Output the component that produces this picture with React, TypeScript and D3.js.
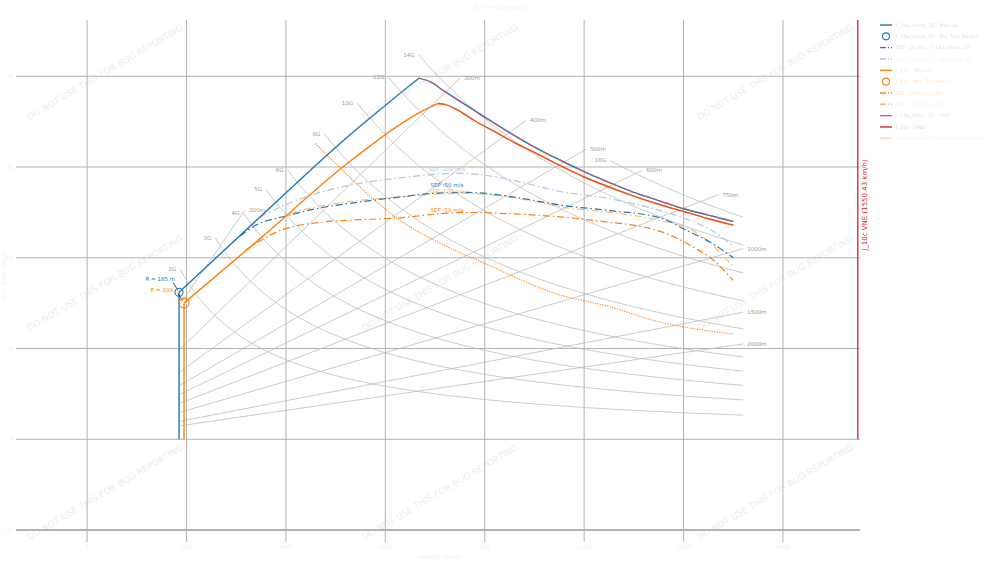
import React from 'react';
import * as d3 from 'd3';

type Pt = [number, number];

const FONT = '"DejaVu Sans", sans-serif';
const G = 9.81;

// every curve is [speed km/h, turn rate deg/s]
const f16Stall: Pt[] = [[185, 0], [185, 16.2]];
const f16Climb: Pt[] = [[185, 16.2], [348, 24.5], [509, 32.6], [668, 39.8]];
const f16Descent: Pt[] = [
  [668, 39.8], [690, 39.4], [720, 38.3], [760, 36.9], [800, 35.5], [850, 33.8], [900, 32.2],
  [950, 30.8], [1000, 29.5], [1050, 28.3], [1100, 27.2], [1150, 26.3], [1200, 25.4], [1250, 24.7], [1300, 24.0],
];
const j10Stall: Pt[] = [[195, 0], [195, 15.0]];
const j10Climb: Pt[] = [[195, 15.0], [352, 22.3], [533, 30.8], [690, 36.6], [706, 37.0]];
const j10Descent: Pt[] = [
  [706, 37.0], [720, 36.9], [745, 36.3], [780, 35.1], [820, 33.9], [860, 32.7], [900, 31.6],
  [950, 30.2], [1000, 28.9], [1050, 27.8], [1100, 26.8], [1150, 25.9], [1200, 25.1], [1250, 24.3], [1300, 23.6],
];

const f16Sep50: Pt[] = [
  [308, 22.4], [340, 23.6], [400, 24.6], [460, 25.4], [529, 26.0], [630, 26.7], [696, 27.1], [765, 27.2],
  [831, 26.9], [890, 26.4], [952, 25.8], [1052, 25.2], [1153, 24.4], [1207, 23.0], [1254, 21.7], [1300, 20.0],
];
const f16Sep100: Pt[] = [
  [348, 24.5], [420, 26.3], [489, 27.5], [560, 28.3], [630, 28.8], [700, 29.2], [750, 29.3], [800, 29.1],
  [860, 28.5], [952, 27.3], [1052, 26.5], [1153, 25.2], [1219, 24.0], [1260, 22.9], [1300, 21.3],
];
const j10Sep50: Pt[] = [
  [318, 20.8], [388, 23.0], [469, 23.9], [550, 24.2], [630, 24.4], [700, 24.8], [765, 25.0], [831, 24.9],
  [952, 24.5], [1052, 23.9], [1119, 23.4], [1173, 22.5], [1219, 21.2], [1254, 20.0], [1300, 17.5],
];
const j10Sep100: Pt[] = [
  [408, 24.9], [470, 25.7], [529, 26.2], [630, 26.7], [700, 27.0], [765, 27.1], [831, 26.8], [900, 26.2],
  [966, 25.5], [1052, 25.0], [1153, 24.1], [1219, 23.0], [1254, 21.6], [1300, 19.0],
];
const j10Sustained: Pt[] = [
  [459, 32.6], [509, 29.9], [569, 26.8], [630, 24.1], [710, 21.6], [791, 19.6], [952, 15.9],
  [1052, 14.6], [1153, 12.9], [1219, 12.2], [1300, 11.6],
];

const f16MinRadius: Pt = [185, 16.2];
const j10MinRadius: Pt = [195, 15.0];
const minRadiusLabels = ['R = 185 m', 'R = 209 m'];

// constant load factor and constant radius guides
const gLoads = [2, 3, 4, 5, 6, 8, 10, 12, 14, 16];
const gStartSpeeds = [187, 258, 314, 360, 403, 477, 543, 606, 667, 1052];
const radii = [200, 300, 400, 500, 600, 750, 1000, 1500, 2000];
const radiusEndSpeeds = [318, 750, 883, 1004, 1117, 1270, 1320, 1320, 1320];
const guideStartSpeed = 185;
const guideEndSpeed = 1320;

const vneSpeed = 1550.43;
const xTicks = [0, 200, 400, 600, 800, 1000, 1200, 1400];
const yTicks = [-10, 0, 10, 20, 30, 40];

const legendLabels = [
  'f_16a_block_10 - Max Gs',
  'f_16a_block_10 - Min Turn Radius',
  'SEP -50 m/s - f_16a_block_10',
  'SEP -100 m/s - f_16a_block_10',
  'J_10c - Max Gs',
  'J_10c - Min Turn Radius',
  'SEP -50 m/s - J_10c',
  'SEP -100 m/s - J_10c',
  'f_16a_block_10 - VNE',
  'J_10c - VNE',
  'Max sustained turn rate at sea level',
];

const BLUE = '#1f77b4';
const LIGHT_BLUE = '#aec7e8';
const ORANGE = '#ff7f0e';
const LIGHT_ORANGE = '#ffbb78';
const RED = '#d62728';
const PINK_RED = '#e0566a';
const GUIDE = '#bcbcbc';
const DASHDOT = '7,3,1.5,3';

const legendStyles = [
  { color: BLUE, kind: 'solid' },
  { color: BLUE, kind: 'circle' },
  { color: BLUE, kind: 'dashdot' },
  { color: LIGHT_BLUE, kind: 'dashdot' },
  { color: ORANGE, kind: 'solid' },
  { color: ORANGE, kind: 'circle' },
  { color: ORANGE, kind: 'dashdot' },
  { color: LIGHT_ORANGE, kind: 'dashdot' },
  { color: PINK_RED, kind: 'solid' },
  { color: RED, kind: 'solid' },
  { color: LIGHT_ORANGE, kind: 'dotted' },
];

const turnRate = (v: number, n: number) => ((G * Math.sqrt(n * n - 1)) / (v / 3.6)) * (180 / Math.PI);
const radiusRate = (v: number, r: number) => (v / 3.6 / r) * (180 / Math.PI);

const valueAt = (s: Pt[], v: number) => {
  const i = d3.bisector((d: Pt) => d[0]).left(s, v);
  if (i <= 0) return s[0][1];
  if (i >= s.length) return s[s.length - 1][1];
  const [x0, y0] = s[i - 1];
  const [x1, y1] = s[i];
  return y0 + ((v - x0) / (x1 - x0)) * (y1 - y0);
};

export default function App() {
  const left = 20, right = 860, top = 20, bottom = 530;

  const x = d3.scaleLinear().domain([-135, 1555]).range([left, right]);
  const y = d3.scaleLinear().domain([-10, 46.2]).range([bottom, top]);

  const straight = d3.line<Pt>().x(d => x(d[0])).y(d => y(d[1]));
  const smooth = d3.line<Pt>().x(d => x(d[0])).y(d => y(d[1])).curve(d3.curveMonotoneX);

  const gCurves = gLoads.map((n, i) => {
    const pts: Pt[] = d3.range(gStartSpeeds[i], guideEndSpeed, 5).map(v => [v, turnRate(v, n)] as Pt);
    pts.push([guideEndSpeed, turnRate(guideEndSpeed, n)]);
    return pts;
  });

  const radiusLines = radii.map((r, i) => [
    [guideStartSpeed, radiusRate(guideStartSpeed, r)],
    [radiusEndSpeeds[i], radiusRate(radiusEndSpeeds[i], r)],
  ] as Pt[]);

  const sepLabels = [
    { text: 'SEP -100 m/s', series: f16Sep100, color: LIGHT_BLUE, dy: -3 },
    { text: 'SEP -50 m/s', series: f16Sep50, color: BLUE, dy: -6 },
    { text: 'SEP -100 m/s', series: j10Sep100, color: LIGHT_ORANGE, dy: -1 },
    { text: 'SEP -50 m/s', series: j10Sep50, color: ORANGE, dy: -2 },
  ];
  const sepLabelSpeed = 724;

  const wmCols = [105, 440, 775];
  const wmRows = [72, 283, 492];

  const xv = x(vneSpeed);

  return (
    <svg width={1000} height={562} style={{ position: 'absolute', left: 0, top: 0, background: '#fff' }}
      fontFamily={FONT}>
      {/* grid */}
      {xTicks.map(t => (
        <g key={'xt' + t}>
          <line x1={x(t)} x2={x(t)} y1={top} y2={bottom + 12} stroke="#b3b3b3" strokeWidth={1} />
          <text x={x(t)} y={bottom + 19} textAnchor="middle" fontSize={6} fill="#f2f2f2">{t}</text>
        </g>
      ))}
      {yTicks.map(t => (
        <g key={'yt' + t}>
          <line x1={left - 4} x2={right} y1={y(t)} y2={y(t)} stroke="#b3b3b3" strokeWidth={t === -10 ? 2 : 1} />
          <text x={left - 6} y={y(t)} dy="0.35em" textAnchor="end" fontSize={6} fill="#f2f2f2">{t}</text>
        </g>
      ))}
      <text x={(left + right) / 2} y={559} textAnchor="middle" fontSize={6} fill="#f2f2f2">Velocity (km/h)</text>
      <text transform={`translate(6,${(top + bottom) / 2}) rotate(-90)`} textAnchor="middle" fontSize={6}
        fill="#f2f2f2">Turn Rate (deg/s)</text>
      <text x={500} y={9} textAnchor="middle" fontSize={6} fill="#f2f2f2">Turn Performance</text>

      {/* load factor and radius guides */}
      {gCurves.map((pts, i) => (
        <g key={'g' + i}>
          <path d={straight(pts) || ''} fill="none" stroke={GUIDE} strokeWidth={0.8} />
          <text x={x(pts[0][0]) - 4} y={y(pts[0][1])} dy="0.35em" textAnchor="end" fontSize={5.5}
            fill="#999">{gLoads[i]}G</text>
        </g>
      ))}
      {radiusLines.map((pts, i) => (
        <g key={'r' + i}>
          <path d={straight(pts) || ''} fill="none" stroke={GUIDE} strokeWidth={0.8} />
          <text x={x(pts[1][0]) + 4} y={y(pts[1][1])} dy="0.35em" fontSize={5.5} fill="#999">{radii[i]}m</text>
        </g>
      ))}

      {/* sustained and SEP curves */}
      <path d={smooth(j10Sustained) || ''} fill="none" stroke={ORANGE} strokeWidth={1.1} strokeDasharray="1.2,1.3" />
      <path d={smooth(f16Sep100) || ''} fill="none" stroke={LIGHT_BLUE} strokeWidth={1.2} strokeDasharray={DASHDOT} />
      <path d={smooth(j10Sep100) || ''} fill="none" stroke={LIGHT_ORANGE} strokeWidth={1.2} strokeDasharray={DASHDOT} />
      <path d={smooth(f16Sep50) || ''} fill="none" stroke={BLUE} strokeWidth={1.2} strokeDasharray={DASHDOT} />
      <path d={smooth(j10Sep50) || ''} fill="none" stroke={ORANGE} strokeWidth={1.2} strokeDasharray={DASHDOT} />
      {sepLabels.map((l, i) => (
        <text key={'sl' + i} x={x(sepLabelSpeed)} y={y(valueAt(l.series, sepLabelSpeed)) + l.dy}
          textAnchor="middle" fontSize={5.5} fill={l.color}>{l.text}</text>
      ))}

      {/* max turn rate envelopes */}
      <path d={straight(j10Stall) || ''} fill="none" stroke={ORANGE} strokeWidth={1.4} />
      <path d={smooth(j10Climb) || ''} fill="none" stroke={ORANGE} strokeWidth={1.4} />
      <path d={smooth(j10Descent) || ''} fill="none" stroke={ORANGE} strokeWidth={1.4} />
      <path d={smooth(j10Descent) || ''} fill="none" stroke={RED} strokeWidth={1.4} strokeOpacity={0.5} />
      <path d={straight(f16Stall) || ''} fill="none" stroke={BLUE} strokeWidth={1.4} />
      <path d={smooth(f16Climb) || ''} fill="none" stroke={BLUE} strokeWidth={1.4} />
      <path d={smooth(f16Descent) || ''} fill="none" stroke={BLUE} strokeWidth={1.4} />
      <path d={smooth(f16Descent) || ''} fill="none" stroke={PINK_RED} strokeWidth={1.4} strokeDasharray="3,3" />

      {/* minimum radius markers */}
      {[f16MinRadius, j10MinRadius].map((p, i) => {
        const cx = x(p[0]), cy = y(p[1]);
        const color = i === 0 ? BLUE : ORANGE;
        const r = i === 0 ? 4 : 5;
        return (
          <g key={'mr' + i}>
            <line x1={cx - 6} y1={cy - 10} x2={cx - 1.5} y2={cy - 2.5} stroke="#333" strokeWidth={0.8} />
            <circle cx={cx} cy={cy} r={r} fill="none" stroke={color} strokeWidth={1.1} />
            <text x={cx - 4} y={cy - 13} dy="0.35em" textAnchor="end" fontSize={5.5} fill={color}>
              {minRadiusLabels[i]}
            </text>
          </g>
        );
      })}

      {/* never exceed speed */}
      <line x1={xv} x2={xv} y1={y(0)} y2={top} stroke={PINK_RED} strokeWidth={1.5} />
      <line x1={xv} x2={xv} y1={y(0)} y2={top} stroke={RED} strokeWidth={1} strokeOpacity={0.6} />
      <text transform={`translate(${xv + 9},205) rotate(-90)`} textAnchor="middle" fontSize={7} fill={RED}>
        J_10c VNE (1550.43 km/h)
      </text>

      {/* legend */}
      {legendLabels.map((label, i) => {
        const st = legendStyles[i];
        const ly = 25 + i * 11.33;
        return (
          <g key={'lg' + i}>
            {st.kind === 'circle' ? (
              <circle cx={886} cy={ly} r={3.5} fill="none" stroke={st.color} strokeWidth={1.1} />
            ) : (
              <line x1={880} x2={892} y1={ly} y2={ly} stroke={st.color} strokeWidth={1.4}
                strokeDasharray={st.kind === 'dashdot' ? '6,2,1,2' : st.kind === 'dotted' ? '1.2,1.2' : undefined} />
            )}
            <text x={896} y={ly} dy="0.35em" fontSize={5} fill={st.color} fillOpacity={0.25}>{label}</text>
          </g>
        );
      })}

      {/* watermark */}
      {wmRows.map(wy => wmCols.map(wx => (
        <text key={`wm${wx}-${wy}`} transform={`translate(${wx},${wy}) rotate(-30.5)`} textAnchor="middle"
          dy="0.35em" fontSize={9} fill="#c8c8c8" fillOpacity={0.38}>
          DO NOT USE THIS FOR BUG REPORTING
        </text>
      )))}
    </svg>
  );
}
